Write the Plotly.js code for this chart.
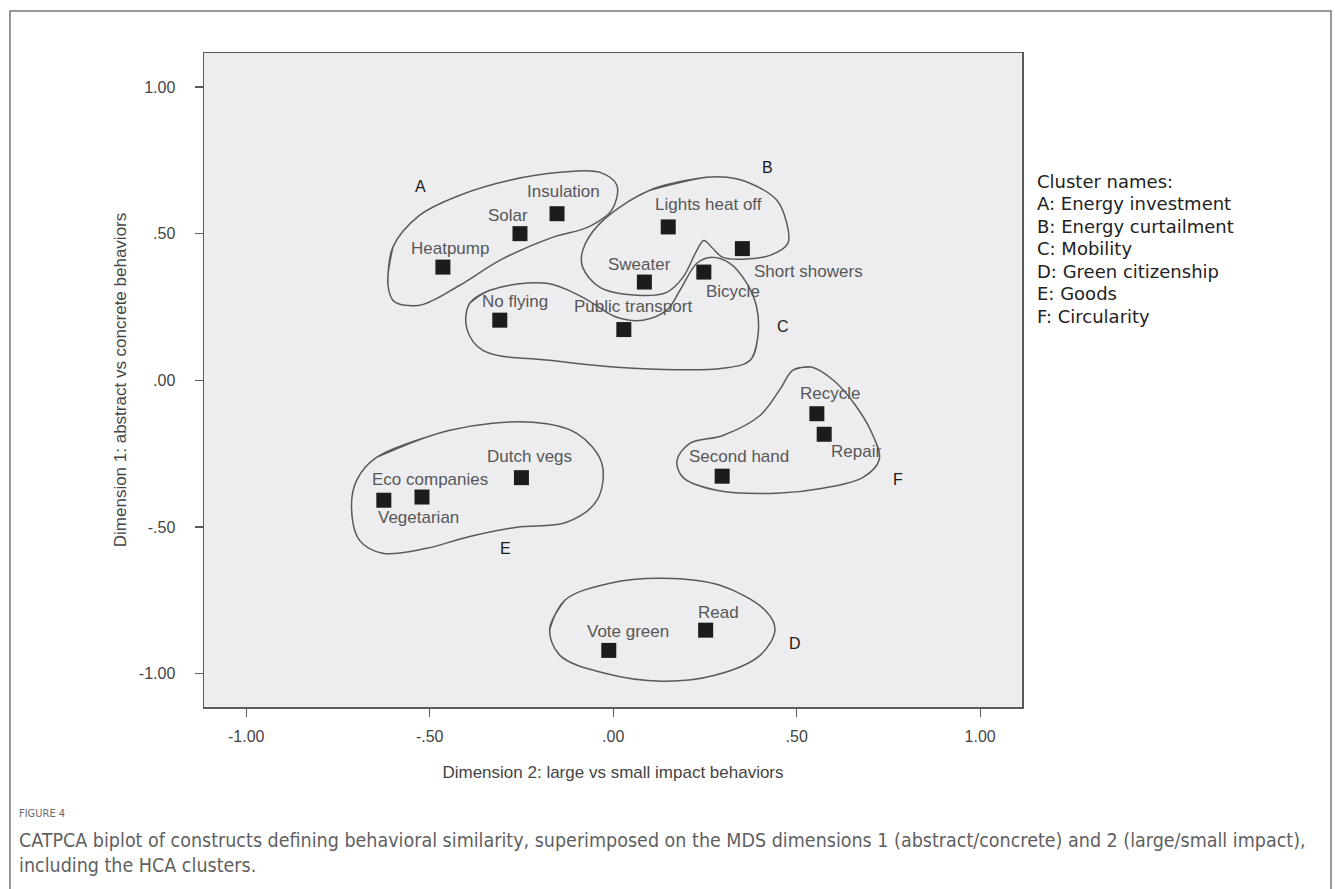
<!DOCTYPE html>
<html>
<head>
<meta charset="utf-8">
<script src="https://cdn.plot.ly/plotly-3.0.1.min.js"></script>
<style>
html,body{margin:0;padding:0;background:#fff;}
#chart{width:1335px;height:889px;}
</style>
</head>
<body>
<div id="chart"></div>
<script>
// ---- Data ----
const behaviors = ["Heatpump","Solar","Insulation","No flying","Lights heat off","Short showers","Sweater","Bicycle","Public transport","Dutch vegs","Eco companies","Vegetarian","Recycle","Repair","Second hand","Read","Vote green"];
const dim2 = [-0.464,-0.254,-0.153,-0.309,0.150,0.352,0.085,0.247,0.029,-0.250,-0.521,-0.625,0.555,0.575,0.297,0.252,-0.012];
const dim1 = [0.386,0.500,0.568,0.205,0.523,0.449,0.335,0.369,0.173,-0.332,-0.398,-0.409,-0.114,-0.184,-0.327,-0.852,-0.921];

const tickVals = [-1, -0.5, 0, 0.5, 1];
const tickText = ["-1.00", "-.50", ".00", ".50", "1.00"];

const clusterLetters = ["A","B","C","D","E","F"];
const clusterLetterX = [-0.525, 0.420, 0.462, 0.496, -0.293, 0.776];
const clusterLetterY = [0.661, 0.724, 0.184, -0.896, -0.574, -0.339];

const clusterNames = ["Cluster names:","A: Energy investment","B: Energy curtailment","C: Mobility","D: Green citizenship","E: Goods","F: Circularity"];

// cluster outlines (hand-drawn hulls, in dimension units)
const outlineA_x = [-0.614,-0.600,-0.527,-0.418,-0.282,-0.145,-0.036,0.010,-0.004,-0.064,-0.173,-0.309,-0.418,-0.527,-0.598];
const outlineA_y = [0.330,0.455,0.563,0.631,0.682,0.709,0.709,0.665,0.580,0.525,0.484,0.409,0.324,0.256,0.270];
const outlineB_x = [0.255,0.100,-0.036,-0.083,-0.083,-0.036,0.065,0.146,0.190,0.228,0.247,0.269,0.299,0.353,0.427,0.476,0.473,0.446,0.373,0.310];
const outlineB_y = [0.692,0.648,0.535,0.443,0.385,0.317,0.290,0.300,0.351,0.443,0.477,0.453,0.419,0.413,0.426,0.467,0.535,0.614,0.672,0.692];
const outlineC_x = [-0.391,-0.336,-0.181,-0.083,0.010,0.081,0.146,0.182,0.228,0.264,0.318,0.364,0.391,0.394,0.373,0.299,0.054,-0.173,-0.355,-0.399];
const outlineC_y = [0.263,0.307,0.331,0.283,0.215,0.205,0.239,0.307,0.399,0.419,0.399,0.331,0.249,0.147,0.068,0.041,0.041,0.068,0.102,0.177];
const outlineD_x = [-0.173,-0.132,-0.009,0.133,0.291,0.414,0.441,0.400,0.277,0.133,-0.023,-0.145];
const outlineD_y = [-0.849,-0.750,-0.692,-0.675,-0.699,-0.784,-0.849,-0.938,-1.006,-1.026,-0.999,-0.938];
const outlineE_x = [-0.645,-0.445,-0.219,-0.099,-0.031,-0.044,-0.127,-0.263,-0.399,-0.508,-0.628,-0.691,-0.713,-0.699];
const outlineE_y = [-0.263,-0.170,-0.143,-0.181,-0.283,-0.409,-0.484,-0.501,-0.535,-0.573,-0.590,-0.546,-0.433,-0.341];
const outlineF_x = [0.490,0.540,0.600,0.660,0.705,0.725,0.681,0.571,0.446,0.282,0.190,0.174,0.209,0.299,0.400,0.455];
const outlineF_y = [0.035,0.045,0.000,-0.085,-0.180,-0.270,-0.331,-0.368,-0.385,-0.375,-0.331,-0.273,-0.215,-0.188,-0.120,-0.030];

const captionLabel = "FIGURE 4";
const captionLines = [
  "CATPCA biplot of constructs defining behavioral similarity, superimposed on the MDS dimensions 1 (abstract/concrete) and 2 (large/small impact),",
  "including the HCA clusters."
];

// ---- Presentation (positions / styles) ----
const W = 1335, H = 889;
const M = {l: 204, r: 313, t: 53, b: 182};
const pw = W - M.l - M.r, ph = H - M.t - M.b;
const pxX = px => (px - M.l) / pw;
const pyY = py => (H - M.b - py) / ph;

// label offsets relative to each marker (pixels; [dx, up])
const labelShift = {
  "Heatpump":[7,19], "Solar":[-12,18], "Insulation":[6,22], "No flying":[15,19],
  "Lights heat off":[40,22], "Short showers":[66,-23], "Sweater":[-5,18], "Bicycle":[29,-19],
  "Public transport":[9,23], "Dutch vegs":[8,21], "Eco companies":[8,18], "Vegetarian":[35,-17],
  "Recycle":[13,20], "Repair":[32,-17], "Second hand":[17,20], "Read":[13,18], "Vote green":[19,19]
};

const plotFont = "Liberation Sans, Arial, sans-serif";
const outlineStyle = {color: "#5a5a5a", width: 1.5, shape: "spline", smoothing: 1.0};

function closed(a){ return a.concat([a[0], a[1]]); }
const outlines = [
  [outlineA_x, outlineA_y],[outlineB_x, outlineB_y],[outlineC_x, outlineC_y],
  [outlineD_x, outlineD_y],[outlineE_x, outlineE_y],[outlineF_x, outlineF_y]
];

const traces = outlines.map(o => ({
  type: "scatter", mode: "lines",
  x: closed(o[0]), y: closed(o[1]),
  line: outlineStyle, hoverinfo: "skip", showlegend: false
}));

traces.push({
  type: "scatter", mode: "markers",
  x: dim2, y: dim1, text: behaviors,
  marker: {symbol: "square", size: 15, color: "#1c1c1c", line: {width: 0}},
  hovertemplate: "%{text}<extra></extra>", showlegend: false
});

const annotations = [];
behaviors.forEach((name, i) => {
  const s = labelShift[name] || [0, 18];
  annotations.push({
    x: dim2[i], y: dim1[i], xref: "x", yref: "y", text: name, showarrow: false,
    xanchor: "center", yanchor: "middle", xshift: s[0], yshift: s[1],
    font: {family: plotFont, size: 17, color: "#575757"}
  });
});
clusterLetters.forEach((c, i) => {
  annotations.push({
    x: clusterLetterX[i], y: clusterLetterY[i], xref: "x", yref: "y", text: c, showarrow: false,
    xanchor: "center", yanchor: "middle",
    font: {family: plotFont, size: 16, color: "#1a1a1a"}
  });
});
clusterNames.forEach((t, i) => {
  annotations.push({
    x: pxX(1035), y: pyY(181 + 22.5 * i), xref: "paper", yref: "paper", text: t, showarrow: false,
    xanchor: "left", yanchor: "middle",
    font: {family: "DejaVu Sans, Verdana, sans-serif", size: 18, color: "#222"}
  });
});
const capFont = "Liberation Sans Narrow, DejaVu Sans Condensed, Roboto Condensed, Arial Narrow, sans-serif";
annotations.push({
  x: pxX(17), y: pyY(813), xref: "paper", yref: "paper", text: captionLabel, showarrow: false,
  xanchor: "left", yanchor: "middle", font: {family: capFont, size: 11, color: "#6a6a6a"}
});
captionLines.forEach((t, i) => {
  annotations.push({
    x: pxX(17), y: pyY(840 + 25 * i), xref: "paper", yref: "paper", text: t, showarrow: false,
    xanchor: "left", yanchor: "middle", font: {family: capFont, size: 19.5, color: "#5f5f5f"}
  });
});

const axisCommon = {
  tickmode: "array", tickvals: tickVals, ticktext: tickText,
  showgrid: false, zeroline: false, showline: true, mirror: true,
  linecolor: "#5a5a5a", linewidth: 1.5,
  ticks: "outside", ticklen: 8, tickwidth: 1.2, tickcolor: "#5a5a5a",
  tickfont: {family: plotFont, size: 16, color: "#444"},
  fixedrange: true
};

const layout = {
  width: W, height: H,
  margin: {l: M.l, r: M.r, t: M.t, b: M.b, pad: 0},
  paper_bgcolor: "#ffffff", plot_bgcolor: "#ededf0",
  showlegend: false,
  xaxis: Object.assign({}, axisCommon, {
    range: [-1.115, 1.114], ticklabelstandoff: 6,
    title: {text: "Dimension 2: large vs small impact behaviors", standoff: 22,
            font: {family: plotFont, size: 17, color: "#444"}},
    automargin: false
  }),
  yaxis: Object.assign({}, axisCommon, {
    range: [-1.114, 1.116], ticklabelstandoff: 16,
    title: {text: "Dimension 1: abstract vs concrete behaviors", standoff: 8,
            font: {family: plotFont, size: 17, color: "#444"}},
    automargin: false
  }),
  annotations: annotations,
  shapes: [{
    type: "rect", xref: "paper", yref: "paper",
    x0: pxX(10), x1: pxX(1331), y0: pyY(11), y1: pyY(905),
    line: {color: "#777", width: 1.5}, fillcolor: "rgba(0,0,0,0)"
  }]
};

Plotly.newPlot("chart", traces, layout, {displayModeBar: false, staticPlot: true});
</script>
</body>
</html>
